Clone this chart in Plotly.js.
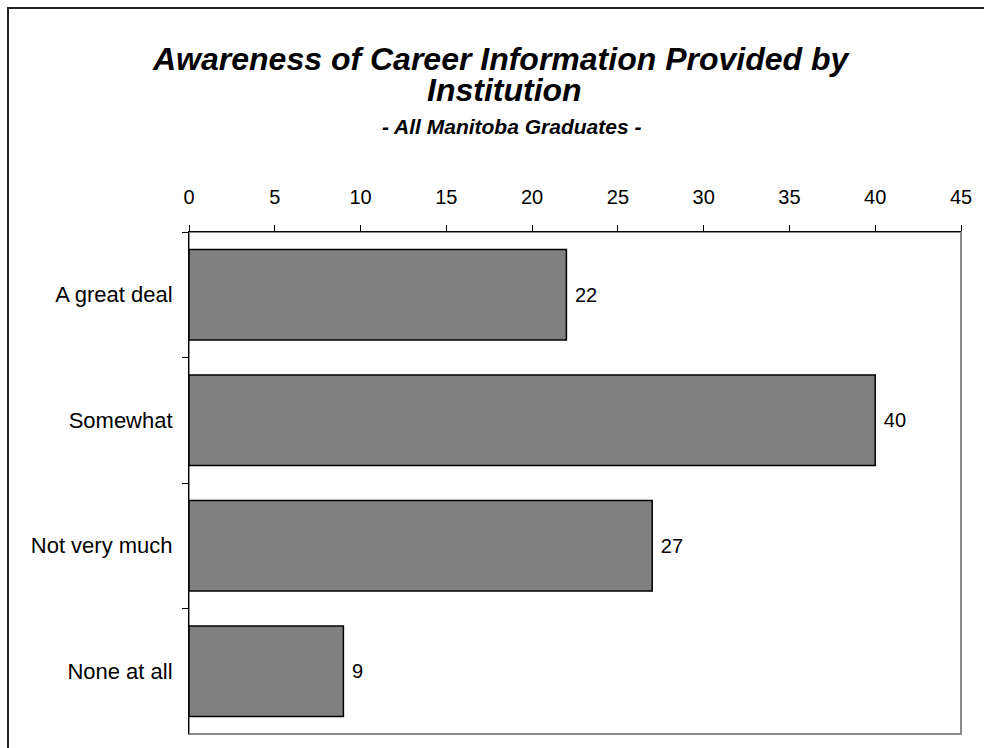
<!DOCTYPE html>
<html>
<head>
<meta charset="utf-8">
<script src="https://cdn.plot.ly/plotly-3.0.1.min.js"></script>
<style>
  html, body { margin: 0; padding: 0; background: #ffffff; }
  #chart { width: 984px; height: 748px; }
</style>
</head>
<body>
<div id="chart"></div>
<script>
const categories = ['A great deal', 'Somewhat', 'Not very much', 'None at all'];
const values = [22, 40, 27, 9];
const xTickValues = [0, 5, 10, 15, 20, 25, 30, 35, 40, 45];
const titleLine1 = 'Awareness of Career Information Provided by';
const titleLine2 = 'Institution';
const subtitle = '- All Manitoba Graduates -';

const FONT = 'Arial, "Liberation Sans", sans-serif';

const trace = {
  type: 'bar',
  orientation: 'h',
  y: categories,
  x: values,
  texttemplate: '\u00a0%{x}',
  textposition: 'outside',
  textfont: { family: FONT, size: 20, color: '#000000' },
  cliponaxis: false,
  marker: { color: '#808080', line: { color: '#000000', width: 1.5 } },
  hoverinfo: 'x+y'
};

const layout = {
  width: 984,
  height: 748,
  margin: { l: 189, r: 23, t: 232, b: 14, pad: 0 },
  paper_bgcolor: '#ffffff',
  plot_bgcolor: '#ffffff',
  showlegend: false,
  bargap: 0.28,
  font: { family: FONT, color: '#000000' },
  xaxis: {
    side: 'top',
    range: [0, 45],
    tickmode: 'array',
    tickvals: xTickValues,
    ticktext: xTickValues.map(String),
    ticks: 'outside',
    ticklen: 6,
    tickcolor: '#000000',
    showgrid: false,
    zeroline: false,
    showline: true,
    linecolor: '#000000',
    linewidth: 1,
    tickfont: { family: FONT, size: 20, color: '#000000' },
    ticklabelstandoff: 13,
    fixedrange: true
  },
  yaxis: {
    type: 'category',
    autorange: 'reversed',
    ticks: 'outside',
    tickson: 'boundaries',
    ticklen: 6,
    tickcolor: '#000000',
    showgrid: false,
    zeroline: false,
    showline: true,
    linecolor: '#000000',
    linewidth: 1,
    tickfont: { family: FONT, size: 22, color: '#000000' },
    ticklabelstandoff: 11,
    fixedrange: true
  },
  shapes: [
    {
      type: 'rect', xref: 'paper', yref: 'paper',
      x0: 0, x1: 1, y0: 0, y1: 1,
      line: { color: '#8a8a8a', width: 2 },
      layer: 'below'
    },
    {
      type: 'rect', xref: 'paper', yref: 'paper',
      x0: (8 - 189) / 772, x1: 1.2, y0: -0.5, y1: 1 + (232 - 8) / 502,
      line: { color: '#222222', width: 2 },
      layer: 'below'
    }
  ],
  annotations: [
    {
      xref: 'paper', yref: 'paper', x: (501 - 189) / 772, y: (734 - 59) / 502,
      xanchor: 'center', yanchor: 'middle', showarrow: false,
      text: '<b><i>' + titleLine1 + '</i></b>',
      font: { family: FONT, size: 32, color: '#000000' }
    },
    {
      xref: 'paper', yref: 'paper', x: (504 - 189) / 772, y: (734 - 90) / 502,
      xanchor: 'center', yanchor: 'middle', showarrow: false,
      text: '<b><i>' + titleLine2 + '</i></b>',
      font: { family: FONT, size: 32, color: '#000000' }
    },
    {
      xref: 'paper', yref: 'paper', x: (511 - 189) / 772, y: (734 - 127) / 502,
      xanchor: 'center', yanchor: 'middle', showarrow: false,
      text: '<b><i>' + subtitle + '</i></b>',
      font: { family: FONT, size: 21, color: '#000000' }
    }
  ]
};

Plotly.newPlot('chart', [trace], layout, { staticPlot: true, displayModeBar: false });
</script>
</body>
</html>
